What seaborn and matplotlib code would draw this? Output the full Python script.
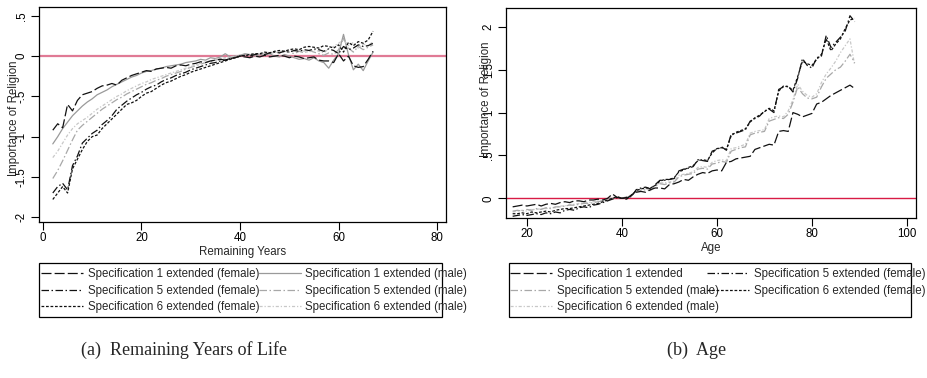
import matplotlib
matplotlib.use("Agg")
import matplotlib.pyplot as plt
import matplotlib.ticker as mticker
from matplotlib.lines import Line2D
from matplotlib.patches import Rectangle
import seaborn as sns
import numpy as np
import pandas as pd

# ---------------- data: panel (a) remaining years ----------------
years = list(range(2, 68))
s1_female = [-0.92, -0.84, -0.89, -0.60, -0.68, -0.55, -0.48, -0.46, -0.44, -0.40,
             -0.37, -0.36, -0.34, -0.36, -0.30, -0.27, -0.24, -0.22, -0.20, -0.18,
             -0.19, -0.16, -0.15, -0.14, -0.15, -0.12, -0.11, -0.12, -0.10, -0.09,
             -0.07, -0.08, -0.06, -0.05, -0.04, -0.05, -0.03, -0.02, 0.00, -0.01,
             -0.02, 0.00, -0.01, 0.01, -0.01, 0.00, 0.01, 0.00, -0.02, 0.00,
             -0.01, -0.03, -0.02, -0.01, -0.05, -0.06, -0.06, -0.08, 0.03, -0.06,
             0.00, -0.12, -0.14, -0.13, -0.04, 0.06]
s1_male = [-1.09, -1.00, -0.90, -0.82, -0.74, -0.68, -0.62, -0.57, -0.53, -0.48,
           -0.45, -0.42, -0.38, -0.35, -0.32, -0.29, -0.26, -0.24, -0.21, -0.19,
           -0.18, -0.16, -0.15, -0.13, -0.12, -0.11, -0.10, -0.08, -0.07, -0.06,
           -0.04, -0.05, -0.02, -0.03, -0.01, 0.03, -0.01, 0.00, 0.01, 0.03,
           0.02, 0.00, 0.02, 0.01, 0.03, 0.00, -0.01, 0.02, 0.00, -0.02,
           -0.04, -0.03, -0.05, -0.02, -0.06, -0.08, -0.15, -0.05, 0.03, 0.27,
           0.02, -0.17, -0.10, -0.18, -0.06, 0.05]
s5_female = [-1.70, -1.62, -1.58, -1.66, -1.36, -1.24, -1.08, -1.02, -0.96, -0.92,
             -0.85, -0.80, -0.74, -0.66, -0.61, -0.56, -0.52, -0.48, -0.45, -0.41,
             -0.38, -0.36, -0.32, -0.29, -0.27, -0.24, -0.22, -0.20, -0.17, -0.15,
             -0.13, -0.11, -0.09, -0.08, -0.06, -0.05, -0.03, -0.02, 0.00, 0.01,
             0.00, 0.02, 0.03, 0.02, 0.04, 0.05, 0.04, 0.06, 0.05, 0.07,
             0.06, 0.08, 0.07, 0.09, 0.08, 0.06, 0.09, 0.07, 0.03, 0.12,
             0.08, 0.10, 0.14, 0.12, 0.13, 0.16]
s5_male = [-1.52, -1.42, -1.30, -1.17, -1.04, -0.92, -0.86, -0.81, -0.76, -0.71,
           -0.66, -0.62, -0.58, -0.54, -0.51, -0.47, -0.44, -0.41, -0.38, -0.35,
           -0.33, -0.30, -0.28, -0.25, -0.23, -0.21, -0.19, -0.16, -0.14, -0.12,
           -0.10, -0.08, -0.07, -0.05, -0.03, -0.02, -0.01, 0.00, 0.00, 0.02,
           0.01, 0.03, 0.02, 0.04, 0.03, 0.05, 0.04, 0.06, 0.05, 0.03,
           0.06, 0.04, 0.07, 0.05, 0.03, 0.01, 0.04, 0.02, 0.08, 0.22,
           0.10, 0.05, 0.12, 0.08, 0.11, 0.14]
s6_female = [-1.78, -1.70, -1.62, -1.70, -1.40, -1.28, -1.16, -1.06, -1.00, -0.98,
             -0.90, -0.84, -0.78, -0.72, -0.66, -0.60, -0.58, -0.55, -0.50, -0.46,
             -0.44, -0.40, -0.36, -0.33, -0.31, -0.28, -0.25, -0.23, -0.20, -0.18,
             -0.16, -0.14, -0.12, -0.10, -0.08, -0.06, -0.04, -0.02, 0.00, 0.01,
             0.02, 0.03, 0.03, 0.05, 0.04, 0.06, 0.07, 0.06, 0.08, 0.09,
             0.08, 0.11, 0.12, 0.11, 0.10, 0.13, 0.12, 0.10, 0.14, 0.05,
             0.17, 0.13, 0.18, 0.16, 0.20, 0.31]
s6_male = [-1.26, -1.18, -1.08, -0.98, -0.90, -0.84, -0.80, -0.76, -0.71, -0.66,
           -0.62, -0.58, -0.54, -0.50, -0.47, -0.43, -0.40, -0.37, -0.34, -0.32,
           -0.29, -0.27, -0.25, -0.23, -0.21, -0.19, -0.17, -0.15, -0.13, -0.11,
           -0.09, -0.07, -0.06, -0.04, -0.03, -0.02, -0.01, 0.00, 0.01, 0.00,
           0.02, 0.03, 0.02, 0.04, 0.05, 0.04, 0.06, 0.05, 0.07, 0.06,
           0.08, 0.06, 0.05, 0.08, 0.06, 0.04, 0.09, 0.12, 0.16, 0.20,
           0.13, 0.17, 0.10, 0.15, 0.13, 0.18]

# ---------------- data: panel (b) age ----------------
ages = list(range(17, 90))
b_s1 = [-0.10, -0.09, -0.08, -0.09, -0.08, -0.07, -0.09, -0.07, -0.06, -0.07,
        -0.05, -0.04, -0.05, -0.03, -0.03, -0.04, -0.02, -0.02, -0.01, -0.02,
        0.00, 0.05, 0.01, 0.00, -0.01, 0.04, 0.07, 0.08, 0.07, 0.10,
        0.12, 0.12, 0.11, 0.16, 0.17, 0.19, 0.22, 0.21, 0.25, 0.28,
        0.30, 0.29, 0.32, 0.33, 0.32, 0.42, 0.43, 0.46, 0.47, 0.48,
        0.49, 0.57, 0.59, 0.61, 0.63, 0.62, 0.78, 0.79, 0.78, 1.00,
        0.98, 0.95, 0.97, 0.99, 1.10, 1.12, 1.16, 1.20, 1.23, 1.26,
        1.29, 1.32, 1.28]
b_s5_female = [-0.21, -0.20, -0.19, -0.20, -0.19, -0.18, -0.19, -0.17, -0.18, -0.16,
               -0.17, -0.14, -0.13, -0.14, -0.11, -0.10, -0.11, -0.08, -0.07, -0.05,
               -0.03, -0.01, 0.01, 0.00, 0.01, 0.02, 0.10, 0.12, 0.13, 0.11,
               0.16, 0.21, 0.21, 0.22, 0.23, 0.32, 0.34, 0.35, 0.37, 0.45,
               0.44, 0.43, 0.55, 0.57, 0.60, 0.56, 0.75, 0.76, 0.78, 0.80,
               0.90, 0.93, 0.96, 1.02, 1.04, 1.00, 1.27, 1.30, 1.31, 1.24,
               1.40, 1.63, 1.55, 1.52, 1.64, 1.66, 1.90, 1.76, 1.82, 1.88,
               1.95, 2.13, 2.06]
b_s5_male = [-0.15, -0.14, -0.15, -0.13, -0.14, -0.12, -0.13, -0.11, -0.12, -0.10,
             -0.10, -0.09, -0.08, -0.08, -0.07, -0.06, -0.06, -0.05, -0.04, -0.03,
             -0.02, 0.00, 0.01, 0.00, 0.01, 0.03, 0.08, 0.09, 0.10, 0.09,
             0.14, 0.17, 0.16, 0.18, 0.19, 0.25, 0.27, 0.28, 0.29, 0.34,
             0.35, 0.34, 0.40, 0.41, 0.43, 0.42, 0.55, 0.57, 0.59, 0.60,
             0.74, 0.76, 0.77, 0.78, 0.90, 0.92, 0.94, 0.93, 0.98, 1.12,
             1.30, 1.22, 1.17, 1.16, 1.18, 1.30, 1.40, 1.45, 1.50, 1.53,
             1.60, 1.68, 1.58]
b_s6_female = [-0.18, -0.18, -0.17, -0.18, -0.16, -0.17, -0.16, -0.15, -0.16, -0.14,
               -0.13, -0.12, -0.12, -0.11, -0.10, -0.09, -0.08, -0.07, -0.06, -0.04,
               -0.02, 0.00, 0.02, 0.00, 0.00, 0.03, 0.09, 0.11, 0.12, 0.12,
               0.15, 0.20, 0.22, 0.22, 0.24, 0.31, 0.33, 0.36, 0.38, 0.44,
               0.45, 0.44, 0.53, 0.58, 0.59, 0.57, 0.73, 0.77, 0.79, 0.81,
               0.89, 0.94, 0.97, 1.01, 1.05, 1.02, 1.25, 1.31, 1.30, 1.26,
               1.42, 1.60, 1.57, 1.55, 1.62, 1.68, 1.86, 1.72, 1.80, 1.86,
               1.98, 2.08, 2.10]
b_s6_male = [-0.16, -0.15, -0.14, -0.15, -0.13, -0.13, -0.12, -0.12, -0.11, -0.11,
             -0.09, -0.09, -0.07, -0.07, -0.06, -0.05, -0.05, -0.04, -0.03, -0.02,
             -0.01, 0.01, 0.01, 0.00, 0.02, 0.04, 0.09, 0.10, 0.11, 0.10,
             0.15, 0.18, 0.18, 0.19, 0.20, 0.27, 0.28, 0.29, 0.31, 0.36,
             0.37, 0.36, 0.42, 0.44, 0.45, 0.44, 0.58, 0.59, 0.61, 0.63,
             0.76, 0.78, 0.79, 0.80, 0.93, 0.95, 0.96, 0.95, 1.02, 1.15,
             1.33, 1.25, 1.20, 1.18, 1.22, 1.35, 1.45, 1.52, 1.60, 1.70,
             1.78, 1.86, 1.55]

left_yticks = [-2, -1.5, -1, -0.5, 0, 0.5]
left_xticks = [0, 20, 40, 60, 80]
right_yticks = [0, 0.5, 1, 1.5, 2]
right_xticks = [20, 40, 60, 80, 100]

# ---------------- style ----------------
sns.set_theme(style="ticks")
plt.rcParams['font.family'] = ['Liberation Sans', 'DejaVu Sans']
FS = 8.3
plt.rcParams['font.size'] = FS

BLACK = '#111111'
GRAY1 = '#9a9a9a'
GRAY5 = '#a8a8a8'
GRAY6 = '#c8c8c8'
LONGDASH = (0, (8, 2.5))
DASHDOT = (0, (6, 2, 1.2, 2))
SHORTDASH = (0, (2.2, 1.4))
DOTDASH = (0, (2.5, 1.5, 1, 1.5))

W, H = 928, 378
fig = plt.figure(figsize=(W / 100, H / 100), dpi=100)
axL = fig.add_axes([39 / W, 1 - 222 / H, 407 / W, 215 / H])
axR = fig.add_axes([506 / W, 1 - 218 / H, 410 / W, 210 / H])


def fmt(v, pos=None):
    if abs(v) < 1e-9:
        return "0"
    s = f"{v:g}"
    s = s.replace("0.", ".")
    return s


def draw(ax, x, y, color, ls, lw=0.9):
    sns.lineplot(x=x, y=y, ax=ax, color=color, linestyle=ls, linewidth=lw,
                 estimator=None, sort=False, legend=False)


# panel (a)
axL.axhline(0, color='#e07a95', linewidth=1.6, zorder=1)
draw(axL, years, s1_male, GRAY1, '-')
draw(axL, years, s5_male, GRAY5, DASHDOT)
draw(axL, years, s6_male, GRAY6, DOTDASH)
draw(axL, years, s1_female, BLACK, LONGDASH)
draw(axL, years, s5_female, BLACK, DASHDOT)
draw(axL, years, s6_female, BLACK, SHORTDASH)
axL.set_xlim(-0.8, 81.8)
axL.set_ylim(-2.06, 0.61)
axL.set_xticks(left_xticks)
axL.set_yticks(left_yticks)
axL.set_xlabel("Remaining Years", fontsize=FS, labelpad=1.5)

# panel (b)
axR.axhline(0, color='#d81b45', linewidth=1.0, zorder=1)
draw(axR, ages, b_s6_male, GRAY6, DOTDASH)
draw(axR, ages, b_s5_male, GRAY5, DASHDOT)
draw(axR, ages, b_s1, BLACK, LONGDASH)
draw(axR, ages, b_s5_female, BLACK, DASHDOT)
draw(axR, ages, b_s6_female, BLACK, SHORTDASH)
axR.set_xlim(15.6, 101.9)
axR.set_ylim(-0.23, 2.22)
axR.set_xticks(right_xticks)
axR.set_yticks(right_yticks)
axR.set_xlabel("Age", fontsize=FS, labelpad=1.5)

for ax in (axL, axR):
    ax.yaxis.set_major_formatter(mticker.FuncFormatter(fmt))
    ax.tick_params(axis='both', length=6, width=0.8, color='black',
                   labelsize=FS, pad=1.5, labelcolor='black')
    ax.tick_params(axis='y', labelrotation=90, pad=2)
    for lbl in ax.get_yticklabels():
        lbl.set_va('center')
    for sp in ax.spines.values():
        sp.set_visible(True)
        sp.set_linewidth(0.9)
        sp.set_color('black')
    ax.set_ylabel("Importance of Religion", fontsize=FS)
    ax.grid(False)

axL.yaxis.set_label_coords(-0.047, 0.484)
axR.yaxis.set_label_coords(-0.034, 0.564)

# legends
def h(color, ls):
    return Line2D([], [], color=color, linestyle=ls, linewidth=0.9)

hL = [h(BLACK, LONGDASH), h(BLACK, DASHDOT), h(BLACK, SHORTDASH),
      h(GRAY1, '-'), h(GRAY5, DASHDOT), h(GRAY6, DOTDASH)]
lL = ["Specification 1 extended (female)", "Specification 5 extended (female)",
      "Specification 6 extended (female)", "Specification 1 extended (male)",
      "Specification 5 extended (male)", "Specification 6 extended (male)"]
hR = [h(BLACK, LONGDASH), h(GRAY5, DASHDOT), h(GRAY6, DOTDASH),
      h(BLACK, DASHDOT), h(BLACK, SHORTDASH)]
lR = ["Specification 1 extended", "Specification 5 extended (male)",
      "Specification 6 extended (male)", "Specification 5 extended (female)",
      "Specification 6 extended (female)"]

legkw = dict(ncol=2, loc='upper left', frameon=False, fontsize=FS,
             handlelength=3.6, handletextpad=0.4, labelspacing=0.38,
             borderpad=0.3, borderaxespad=0)
fig.legend(hL, lL, bbox_to_anchor=(38 / W, 1 - 265 / H), columnspacing=0.0,
           **legkw)
fig.legend(hR, lR, bbox_to_anchor=(507 / W, 1 - 265 / H), columnspacing=-0.95,
           **legkw)
# legend boxes (Stata draws a fixed-size frame that the labels overflow)
for x0, x1 in ((39, 442), (509, 911)):
    fig.patches.append(Rectangle((x0 / W, 1 - 317 / H), (x1 - x0) / W,
                                 54 / H, transform=fig.transFigure,
                                 fill=False, edgecolor='black', linewidth=0.9))

# captions
fig.text(184 / W, 1 - 350 / H, "(a)  Remaining Years of Life",
         family=['Liberation Serif', 'DejaVu Serif'], fontsize=13,
         ha='center', va='center')
fig.text(697 / W, 1 - 350 / H, "(b)  Age",
         family=['Liberation Serif', 'DejaVu Serif'], fontsize=13,
         ha='center', va='center')

fig.savefig("out.png", dpi=100)
